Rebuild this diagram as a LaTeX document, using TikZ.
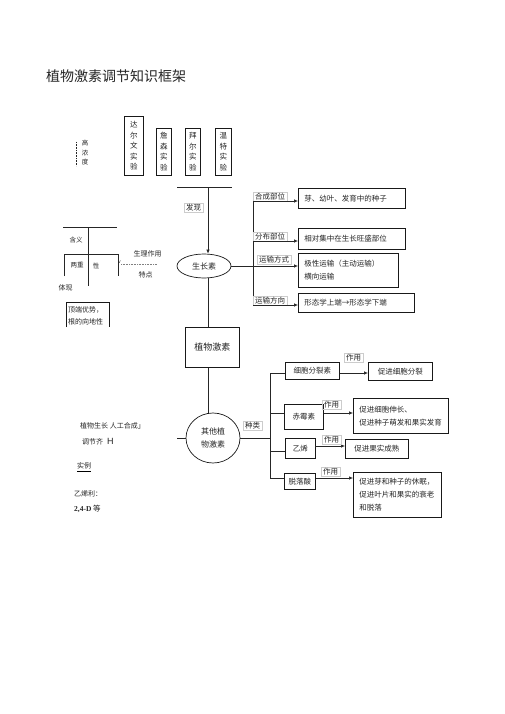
\documentclass[tikz,border=0pt]{standalone}
\usepackage{fontspec}
\setmainfont{Noto Sans CJK SC}
\newfontfamily\lsans{Liberation Sans}
\newfontfamily\lserif{Liberation Serif}
\usetikzlibrary{arrows.meta,shapes.geometric}
\newcommand\sm{\fontsize{7.5}{13}\selectfont}
\newcommand\xs{\fontsize{7}{9}\selectfont}
\begin{document}
\begin{tikzpicture}[x=1pt,y=-1pt,
  every node/.append style={text=black!85},
  bx/.style={draw=black!90, line width=0.7pt, inner sep=0pt, anchor=north west, font=\sm},
  lbx/.style={bx, align=left, inner xsep=6pt},
  vbx/.style={bx, align=center, font=\fontsize{7.5}{10.5}\selectfont},
  ell/.style={ellipse, draw=black!90, line width=0.7pt, inner sep=0pt, font=\fontsize{8}{12.5}\selectfont, align=center},
  lbl/.style={draw=gray!40, line width=0.4pt, inner xsep=2pt, inner ysep=1pt, font=\sm},
  txt/.style={inner sep=0pt, font=\xs},
  ln/.style={draw=black!85, line width=0.6pt},
  arr/.style={ln, -{Latex[length=4pt,width=3.4pt]}}]
\fill[white] (0,0) rectangle (505,714);
\useasboundingbox (0,0) rectangle (505,714);

% title
\node[txt, anchor=west, font=\fontsize{14}{16}\selectfont] (title) at (46,76) {植物激素调节知识框架};

% experiments
\node[vbx, minimum width=19pt, minimum height=59pt] (e1) at (124,116) {达\\尔\\文\\实\\验};
\node[vbx, minimum width=15pt, minimum height=47pt] (e2) at (156,128) {詹\\森\\实\\验};
\node[vbx, minimum width=15pt, minimum height=47pt] (e3) at (185,128) {拜\\尔\\实\\验};
\node[vbx, minimum width=16pt, minimum height=47pt] (e4) at (215,128) {温\\特\\实\\验};
\node[txt, align=center, font=\fontsize{6.5}{9.5}\selectfont] (gnd) at (85,153) {高\\浓\\度};
\coordinate (d1) at (76,142); \coordinate (d2) at (76,166);
\draw[ln, densely dotted, line width=0.5pt] (d1) -- (d2);

% top line and auxin
\coordinate (t1) at (177,187); \coordinate (t2) at (232,187); \coordinate (tm) at (208,187);
\draw[ln] (t1) -- (t2);
\node[ell, minimum width=54pt, minimum height=24pt] (gz) at (204,266) {生长素};
\draw[arr] (tm) -- (tm |- gz.north);
\node[lbl] (fx) at (193.5,207.5) {发现};

% auxin branches
\coordinate (bt) at (253,201); \coordinate (bb) at (253,305);
\draw[ln] (bt) -- (bb);
\node[lbx, text width=95pt, minimum height=20pt] (r1) at (298,188) {芽、幼叶、发育中的种子};
\node[lbx, text width=95pt, minimum height=21pt] (r2) at (298,228) {相对集中在生长旺盛部位};
\node[lbx, text width=88pt, minimum height=34pt] (r3) at (298,253) {极性运输（主动运输）\\横向运输};
\node[lbx, text width=104pt, minimum height=19pt] (r4) at (298,293) {形态学上端→形态学下端};
\node[lbl, anchor=south west] (l1) at (253,201) {合成部位};
\node[lbl, anchor=south west] (l2) at (253,241) {分布部位};
\node[lbl] (l3) at (274,260) {运输方式};
\node[lbl, anchor=south west] (l4) at (253,305) {运输方向};
\draw[arr] (bt) -- (bt -| r1.west);
\draw[arr] (l2.south west) -- (l2.south west -| r2.west);
\draw[ln] (gz.east) -- (gz.east -| bt);
\draw[arr] (gz.east -| bt) -- (gz.east -| r3.west);
\draw[arr] (bb) -- (bb -| r4.west);

% plant hormones
\node[bx, minimum width=54pt, minimum height=40pt, font=\fontsize{9}{11}\selectfont] (zwjs) at (185,327) {植物激素};
\draw[ln] (tm |- gz.south) -- (tm |- zwjs.north);
\node[ell, minimum width=54pt, minimum height=50pt] (qt) at (213,438) {其他植\\物激素};
\draw[ln] (tm |- zwjs.south) -- (tm |- qt.north);
\coordinate (q0) at (177,438);
\draw[ln] (q0) -- (qt.west);
\coordinate (rb) at (270,373); \coordinate (re) at (270,478);
\draw[ln] (qt.east) -- (qt.east -| rb);
\node[lbl] (zl) at (252.5,426) {种类};

% cytokinin
\node[bx, minimum width=54pt, minimum height=17pt] (k1) at (285,362) {细胞分裂素};
\node[bx, minimum width=64pt, minimum height=18pt] (k1r) at (368,362) {促进细胞分裂};
\draw[ln] (rb) -- (rb -| k1.west);
\draw[arr] (rb -| k1.east) -- (rb -| k1r.west);
\node[lbl] (k1z) at (353.5,358) {作用};

% gibberellin
\coordinate (k2y) at (270,413);
\node[bx, minimum width=39pt, minimum height=25pt] (k2) at (284,404) {赤霉素};
\node[lbx, text width=83pt, minimum height=35pt] (k2r) at (353,398) {促进细胞伸长、\\促进种子萌发和果实发育};
\draw[ln] (k2y) -- (k2y -| k2.west);
\draw[arr] (k2y -| k2.east) -- (k2y -| k2r.west);
\node[lbl] (k2z) at (331.5,405) {作用};

% ethylene
\coordinate (k3y) at (270,451);
\node[bx, minimum width=30pt, minimum height=20pt] (k3) at (285,438) {乙烯};
\node[bx, minimum width=63pt, minimum height=19pt] (k3r) at (345,439) {促进果实成熟};
\draw[ln] (k3y) -- (k3y -| k3.west);
\coordinate (k3a) at (315,446);
\draw[arr] (k3a) -- (k3a -| k3r.west);
\node[lbl] (k3z) at (331.5,439.5) {作用};

% abscisic acid
\node[bx, minimum width=31pt, minimum height=16pt] (k4) at (284,473) {脱落酸};
\node[lbx, text width=76pt, minimum height=45pt] (k4r) at (353,472) {促进芽和种子的休眠，\\促进叶片和果实的衰老\\和脱落};
\draw[ln] (rb) -- (re) -- (re -| k4.west);
\draw[arr] (re -| k4.east) -- (re -| k4r.west);
\node[lbl] (k4z) at (330.5,471.5) {作用};

% left: auxin characteristics
\coordinate (L1) at (63,227); \coordinate (L2) at (117,227);
\coordinate (Lm) at (88,227); \coordinate (Lb) at (88,286);
\draw[ln] (L1) -- (L2);
\draw[ln] (Lm) -- (Lb);
\coordinate (P1) at (64,276); \coordinate (P2) at (64,254);
\coordinate (P3) at (118,254); \coordinate (P4) at (118,276);
\draw[ln] (P1) -- (P2) -- (P3) -- (P4);
\node[txt, font=\fontsize{6.5}{8}\selectfont] (hy) at (76,240) {含义};
\node[txt, font=\fontsize{6.5}{8}\selectfont] (lz) at (77,265) {两重};
\node[txt, font=\fontsize{6.5}{8}\selectfont] (xing) at (96,266) {性};
\node[txt, font=\fontsize{5}{6}\selectfont] (vv) at (119.5,262) {v};
\coordinate (o1) at (121,264); \coordinate (o2) at (157,264);
\draw[ln, densely dotted, line width=0.5pt, draw=gray] (o1) -- (o2);
\node[txt] (slzy) at (147.5,254) {生理作用};
\node[txt] (td) at (145.5,275) {特点};
\node[txt] (tx) at (65.5,288) {体现};
\node[txt, anchor=north west, align=left, font=\fontsize{7}{12.5}\selectfont] (dd) at (68,306) {顶端优势，\\根的向地性};
\coordinate (D1) at (66,327); \coordinate (D2) at (66,302);
\coordinate (D3) at (109,302); \coordinate (D4) at (109,327);
\draw[draw=black!90, line width=0.7pt] (D1) -- (D2) -- (D3) -- (D4);

% left: plant growth regulators
\node[txt, anchor=west] (b1) at (80,426) {植物生长\ 人工合成」};
\node[txt, anchor=west] (b2) at (82,442) {调节齐};
\node[txt, anchor=west, font=\fontsize{9}{10}\selectfont\lsans] (b2h) at (107,441) {H};
\node[txt, anchor=west] (b3) at (77,466) {实例};
\draw[line width=0.6pt] ([yshift=-1.8pt]b3.south west) -- ([yshift=-1.8pt]b3.south east);
\node[txt, anchor=west] (b4) at (74,494) {乙烯利：};
\node[txt, anchor=west, font=\fontsize{7.5}{9}\selectfont] (b5) at (74,509) {{\lserif\bfseries 2,4-D} 等};
\end{tikzpicture}
\end{document}
